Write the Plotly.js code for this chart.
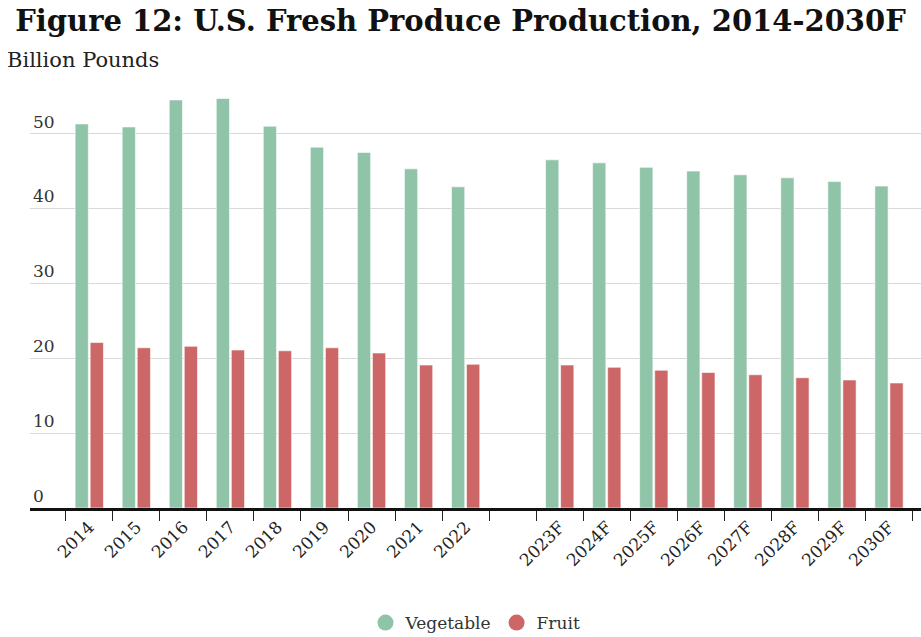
<!DOCTYPE html>
<html>
<head>
<meta charset="utf-8">
<script src="https://cdn.plot.ly/plotly-3.0.1.min.js"></script>
<style>html,body{margin:0;padding:0;background:#fff;}#chart{width:921px;height:637px;}</style>
</head>
<body>
<div id="chart"></div>
<script>
const categories = ["2014","2015","2016","2017","2018","2019","2020","2021","2022"," ","2023F","2024F","2025F","2026F","2027F","2028F","2029F","2030F"];
const vegetable = [51.3,50.9,54.5,54.7,51.0,48.2,47.5,45.3,42.9,null,46.5,46.1,45.5,45.0,44.5,44.1,43.6,43.0];
const fruit = [22.1,21.4,21.6,21.1,21.0,21.4,20.7,19.1,19.2,null,19.1,18.8,18.4,18.1,17.8,17.4,17.1,16.7];
const yTicks = [0,10,20,30,40,50];

const GREEN = "#8fc4a8", RED = "#cd6767";
const FONT = "DejaVu Serif";

const traces = [
  {type:"bar", name:"Vegetable", x:categories, y:vegetable, marker:{color:GREEN, line:{color:"#ffffff", width:0.6}}, showlegend:false, hoverinfo:"x+y"},
  {type:"bar", name:"Fruit", x:categories, y:fruit, marker:{color:RED, line:{color:"#ffffff", width:0.6}}, showlegend:false, hoverinfo:"x+y"},
  {type:"scatter", mode:"markers", name:"Vegetable", x:[null], y:[null], marker:{color:GREEN, size:16, symbol:"circle"}, showlegend:true},
  {type:"scatter", mode:"markers", name:"Fruit", x:[null], y:[null], marker:{color:RED, size:16, symbol:"circle"}, showlegend:true}
];

const layout = {
  width:921, height:637,
  margin:{l:30, r:0, t:85, b:129},
  paper_bgcolor:"#ffffff", plot_bgcolor:"#ffffff",
  font:{family:FONT, color:"#222222", size:16},
  title:{text:"Figure 12: U.S. Fresh Produce Production, 2014-2030F", x:0.5, xanchor:"center", y:0.968, yanchor:"middle",
         font:{family:FONT, size:29, weight:"bold", color:"#111111"}},
  barmode:"group", bargap:0.36, bargroupgap:0.12,
  xaxis:{type:"category", categoryorder:"array", categoryarray:categories, automargin:false,
         range:[-1.26, 17.68], tickson:"boundaries", ticks:"outside", ticklen:10, tickwidth:1, tickcolor:"#222",
         showline:true, linecolor:"#111", linewidth:2.5, showgrid:false, zeroline:false,
         tickangle:-45, tickfont:{family:FONT, size:17, color:"#222"}, fixedrange:true},
  yaxis:{range:[0,56.5], tickvals:yTicks, ticktext:yTicks.map(String), showgrid:true, gridcolor:"#d9d9d9", gridwidth:1,
         automargin:false, zeroline:false, showline:false, ticks:"", ticklabelposition:"inside", ticklabelshift:-12, ticklabelstandoff:0,
         tickfont:{family:FONT, size:17, color:"#333"}, fixedrange:true},
  legend:{orientation:"h", x:0.5, xanchor:"center", yref:"container", y:0.022, yanchor:"middle", font:{family:FONT, size:17, color:"#333"}},
  annotations:[{text:"Billion Pounds", xref:"paper", yref:"paper", x:-0.028, xanchor:"left", y:1.059, yanchor:"middle",
                showarrow:false, font:{family:FONT, size:21, color:"#222"}}]
};

Plotly.newPlot("chart", traces, layout, {displayModeBar:false, staticPlot:true});
</script>
</body>
</html>
